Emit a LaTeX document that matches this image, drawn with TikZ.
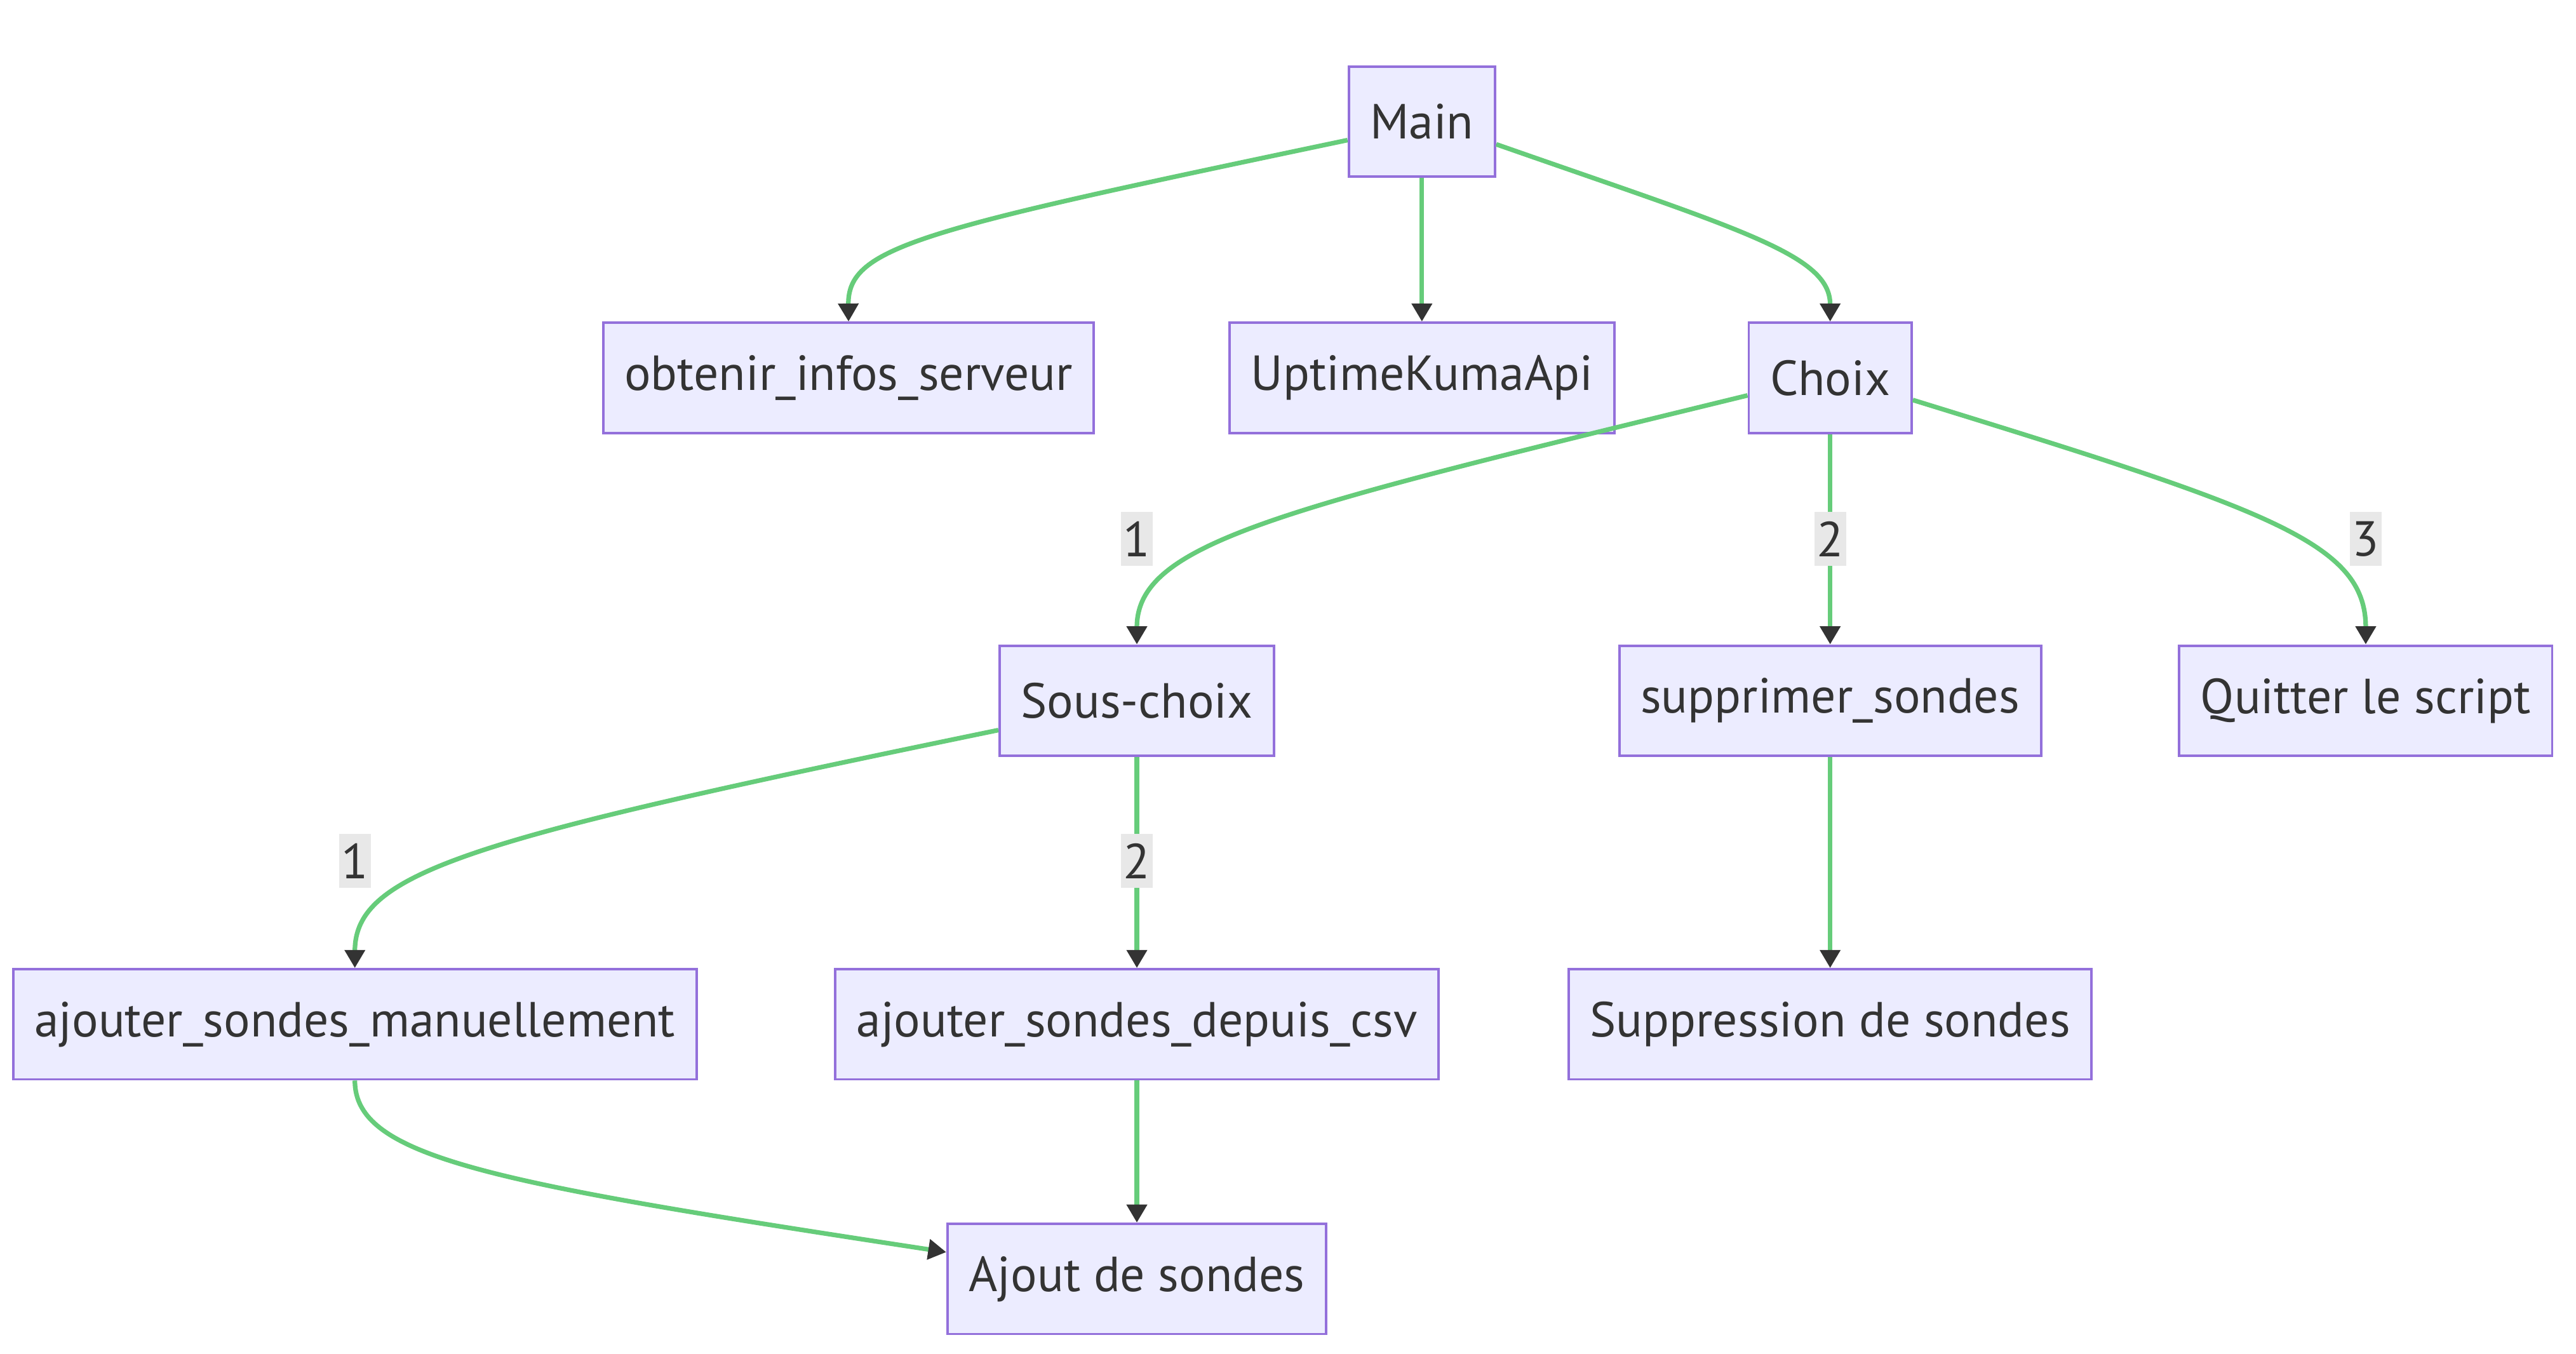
\documentclass[tikz,border=0pt]{standalone}
\usepackage{fontspec}
\setmainfont{PT Sans}
\usetikzlibrary{arrows.meta}
\definecolor{boxfill}{HTML}{ECECFF}
\definecolor{boxline}{HTML}{9370DB}
\definecolor{edgegreen}{HTML}{66CC7A}
\definecolor{tipgray}{HTML}{333333}
\definecolor{lblfill}{HTML}{E8E8E8}
\begin{document}
\begin{tikzpicture}[x=1pt, y=-1pt,
	box/.style={draw=boxline, fill=boxfill, line width=1.5pt, minimum height=67pt, inner xsep=13pt, text=tipgray, font=\fontsize{30}{36}\selectfont},
	lien/.style={draw=edgegreen, line width=2.8pt, -{Triangle[length=11pt,width=12pt,color=tipgray]}},
	etiq/.style={fill=lblfill, inner xsep=1.5pt, inner ysep=0pt, minimum height=33pt, text=tipgray, font=\fontsize{30}{36}\selectfont}]
	
	\useasboundingbox (0,0) rectangle (1568,824);
	
	% 1. Les noeuds
	\node[box] (main) at (865.5,74) {Main};
	\node[box] (obt) at (516.5,230) {obtenir\_infos\_serveur};
	\node[box] (api) at (865.5,230) {UptimeKumaApi};
	\node[box] (choix) at (1114,230) {Choix};
	\node[box] (sous) at (692,426.5) {Sous-choix};
	\node[box] (suppr) at (1114,426.5) {supprimer\_sondes};
	\node[box] (quit) at (1440,426.5) {Quitter le script};
	\node[box] (manu) at (216,623.5) {ajouter\_sondes\_manuellement};
	\node[box] (csv) at (692,623.5) {ajouter\_sondes\_depuis\_csv};
	\node[box] (suppres) at (1114,623.5) {Suppression de sondes};
	\node[box] (ajout) at (692,778.5) {Ajout de sondes};
	
	% 2. Les liens
	\draw[lien] (main.194) .. controls (560,140) and (516,150) .. (obt.north);
	\draw[lien] (main.south) -- (api.north);
	\draw[lien] (main.-17) .. controls (1060,140) and (1114,155) .. (choix.north);
	\draw[lien] (choix.192) .. controls (780,310) and (692,330) .. (sous.north);
	\draw[lien] (choix.south) -- (suppr.north);
	\draw[lien] (choix.-15) .. controls (1380,310) and (1440,330) .. (quit.north);
	\draw[lien] (sous.192) .. controls (290,510) and (216,530) .. (manu.north);
	\draw[lien] (sous.south) -- (csv.north);
	\draw[lien] (suppr.south) -- (suppres.north);
	\draw[lien] (manu.south) .. controls (216,705) and (300,720) .. (ajout.172);
	\draw[lien] (csv.south) -- (ajout.north);
	
	% 3. Les etiquettes
	\node[etiq] (e1) at (692,328) {1};
	\node[etiq] (e2) at (1114,328) {2};
	\node[etiq] (e3) at (1440,328) {3};
	\node[etiq] (e4) at (216,524) {1};
	\node[etiq] (e5) at (692,524) {2};
	
\end{tikzpicture}
\end{document}
